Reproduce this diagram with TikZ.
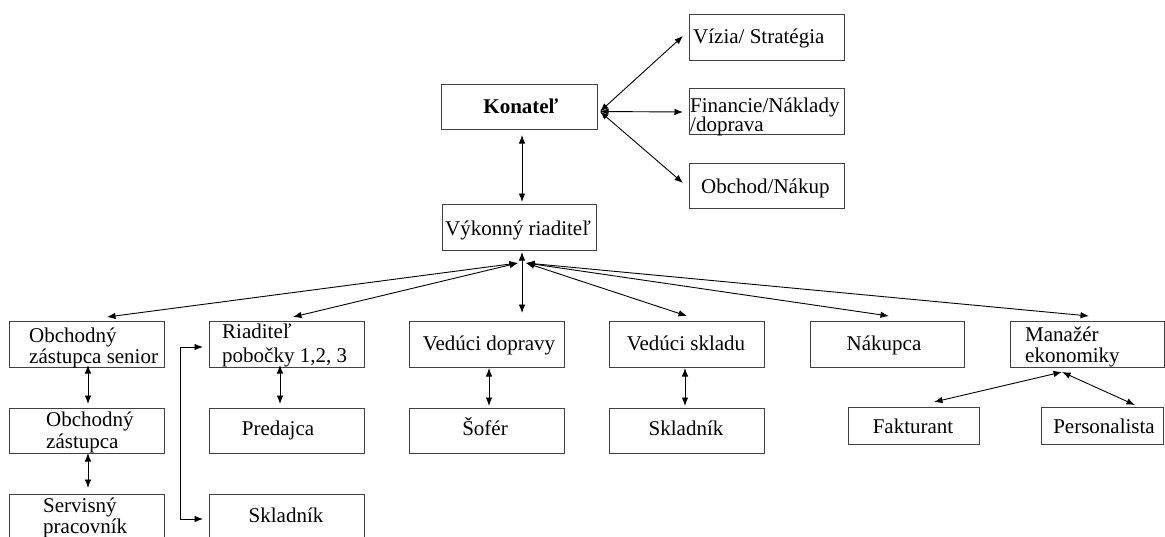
\documentclass[tikz,border=0pt]{standalone}
\usepackage{fontspec}
\setmainfont{Liberation Serif}
\usetikzlibrary{calc,arrows.meta}
\newcommand\fs{\fontsize{21}{23}\selectfont}
\begin{document}
\begin{tikzpicture}[x=1pt,y=-1pt,
  box/.style={draw=black!75, line width=0.9pt, inner sep=0pt, outer sep=0pt},
  txt/.style={inner sep=0pt, anchor=base west, font=\fs},
  ctxt/.style={inner sep=0pt, anchor=base, font=\fs},
  dbl/.style={{Latex[length=8.5pt,width=6.5pt]}-{Latex[length=8.5pt,width=6.5pt]}, line width=0.9pt}]
\useasboundingbox (0,0) rectangle (1165,536);
\fill[white] (0,0) rectangle (1165,536);
% boxes
\node[box,minimum width=156,minimum height=45] (K) at (519,106.5) {};
\node[box,minimum width=155,minimum height=46] (Vz) at (766.5,37) {};
\node[box,minimum width=155,minimum height=46] (F) at (766.5,111) {};
\node[box,minimum width=155,minimum height=45] (Ob) at (766.5,185.5) {};
\node[box,minimum width=154,minimum height=46] (VR) at (519,227) {};
\node[box,minimum width=155,minimum height=46] (S1) at (86.5,344) {};
\node[box,minimum width=155,minimum height=46] (R) at (286.5,344) {};
\node[box,minimum width=155,minimum height=46] (VD) at (486.5,344) {};
\node[box,minimum width=155,minimum height=46] (VS) at (686.5,344) {};
\node[box,minimum width=154,minimum height=46] (N) at (887,344) {};
\node[box,minimum width=154,minimum height=46] (M) at (1087,344) {};
\node[box,minimum width=155,minimum height=45] (OZ) at (86.5,430.5) {};
\node[box,minimum width=155,minimum height=45] (P) at (286.5,430.5) {};
\node[box,minimum width=155,minimum height=45] (Sf) at (486.5,430.5) {};
\node[box,minimum width=155,minimum height=45] (Sk) at (686.5,430.5) {};
\node[box,minimum width=131,minimum height=37] (Fa) at (913.5,425.5) {};
\node[box,minimum width=122,minimum height=37] (Pe) at (1102,425.5) {};
\node[box,minimum width=155,minimum height=46] (S3) at (86.5,517) {};
\node[box,minimum width=155,minimum height=46] (Sl) at (286.5,517) {};
% texts
\node[ctxt,font=\fs\bfseries] (tK) at (521,113) {Konateľ};
\node[txt] (tVz) at (693,43) {Vízia/ Stratégia};
\node[txt] (tF1) at (690,112) {Financie/Náklady};
\node[txt] (tF2) at (690,131) {/doprava};
\node[txt] (tOb) at (701,193) {Obchod/Nákup};
\node[txt] (tVR) at (445,235) {Výkonný riaditeľ};
\node[txt] (tS1a) at (29,342) {Obchodný};
\node[txt] (tS1b) at (29,363) {zástupca senior};
\node[txt] (tRa) at (222,338) {Riaditeľ};
\node[txt] (tRb) at (222,362) {pobočky 1,2, 3};
\node[txt] (tOZa) at (46,426) {Obchodný};
\node[txt] (tOZb) at (46,448) {zástupca};
\node[ctxt] (tP) at (278,435) {Predajca};
\node[txt] (tS3a) at (43,512) {Servisný};
\node[txt] (tS3b) at (43,533) {pracovník};
\node[ctxt] (tSl) at (286,522) {Skladník};
\node[ctxt] (tVD) at (489,350) {Vedúci dopravy};
\node[ctxt] (tSf) at (485,435) {Šofér};
\node[ctxt] (tVS) at (686,350) {Vedúci skladu};
\node[ctxt] (tSk) at (686,435) {Skladník};
\node[ctxt] (tN) at (884,350) {Nákupca};
\node[txt] (tMa) at (1025,341) {Manažér};
\node[txt] (tMb) at (1025,362) {ekonomiky};
\node[ctxt] (tFa) at (913,433) {Fakturant};
\node[ctxt] (tPe) at (1104,433) {Personalista};
% coordinates
\coordinate (kc) at ($(K.east)+(3,5)$);
\coordinate (hubL) at (518,263);
\coordinate (hubR) at (526,263);
\coordinate (mc) at ($(M.south)+(-25,5)$);
% connectors
\draw[dbl] (kc) -- ($(Vz.west)+(-6,-1)$);
\draw[dbl] (kc) -- ($(F.west)+(-6,1)$);
\draw[dbl] (kc) -- ($(Ob.west)+(-6,-2.5)$);
\draw[dbl] ($(K.south)+(3,6)$) -- ($(VR.north)+(3,-2)$);
\draw[dbl] (hubL) -- ($(S1.north)+(20.5,-4)$);
\draw[dbl] (hubL) -- ($(R.north)+(6.5,-4)$);
\draw[dbl] ($(VR.south)+(3,2)$) -- ($(VD.north)+(35.5,-8)$);
\draw[dbl] (hubR) -- ($(VS.north)+(0.5,-5)$);
\draw[dbl] (hubR) -- ($(N.north)+(2,-5)$);
\draw[dbl] (hubR) -- ($(M.north)+(2,-5)$);
\draw[dbl] ($(S1.south)+(1.5,-2)$) -- ($(OZ.north)+(1.5,-4)$);
\draw[dbl] ($(OZ.south)+(1.5,0)$) -- ($(S3.north)+(1.5,-6)$);
\draw[dbl] ($(R.south)+(-6.5,-2)$) -- ($(P.north)+(-6.5,-4)$);
\draw[dbl] ($(VD.south)+(2.5,1)$) -- ($(Sf.north)+(2.5,-2)$);
\draw[dbl] ($(VS.south)+(-1.5,1)$) -- ($(Sk.north)+(-1.5,-2)$);
\draw[dbl] ($(R.west)+(-6,3)$) -- ++(-23,0) |- ($(Sl.west)+(-6,2)$);
\draw[dbl] (mc) -- ($(Fa.north)+(20.5,-5)$);
\draw[dbl] (mc) -- ($(Pe.north)+(33,-2)$);
\end{tikzpicture}
\end{document}
